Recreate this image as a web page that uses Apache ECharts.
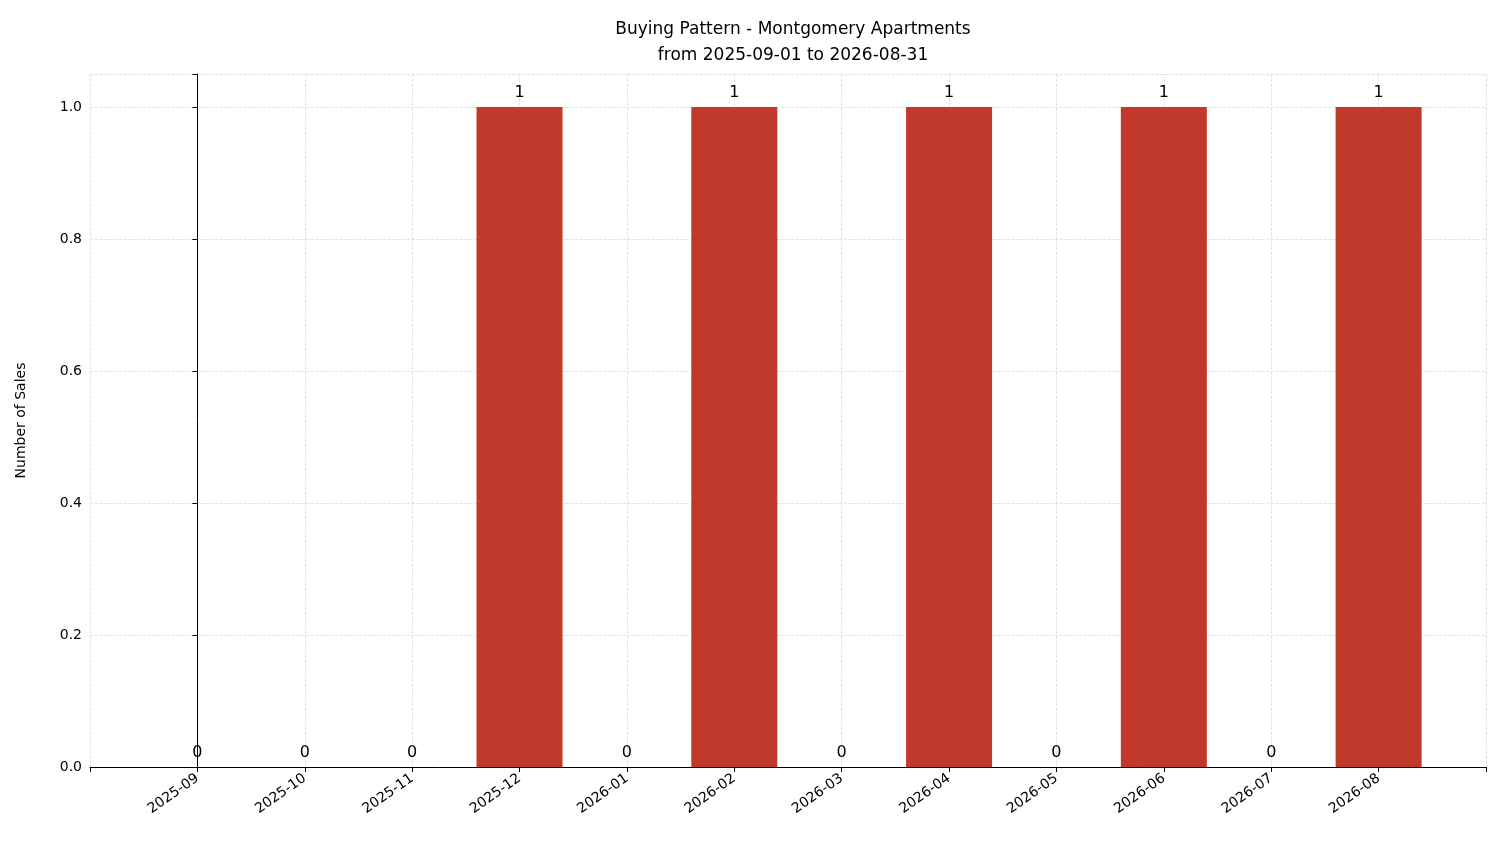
<!DOCTYPE html>
<html><head><meta charset="utf-8">
<script src="https://cdn.jsdelivr.net/npm/echarts@6/dist/echarts.min.js"></script>
<style>html,body{margin:0;padding:0;background:#fff}#c{width:1501px;height:863px}</style>
</head><body><div id="c"></div>
<script>
const categories = ['2025-09','2025-10','2025-11','2025-12','2026-01','2026-02','2026-03','2026-04','2026-05','2026-06','2026-07','2026-08'];
const sales = [0,0,0,1,0,1,0,1,0,1,0,1];
const yTicks = [0,0.2,0.4,0.6,0.8,1.0];

const chart = echarts.init(document.getElementById('c'));
const font = 'DejaVu Sans';
chart.setOption({
  animation:false,
  textStyle:{fontFamily:font},
  title:{text:'Buying Pattern - Montgomery Apartments\nfrom 2025-09-01 to 2026-08-31',left:788,top:12,textAlign:'center',
    textStyle:{fontFamily:font,fontSize:17,fontWeight:'normal',color:'#000',lineHeight:26}},
  grid:{left:90,right:15,top:74,bottom:96,containLabel:false},
  xAxis:{type:'value',min:-1,max:12,interval:1,
    axisLine:{show:true,lineStyle:{color:'#000'}},
    axisTick:{show:true,length:5,lineStyle:{color:'#000'}},
    axisLabel:{rotate:35,fontSize:14,color:'#000',fontFamily:font,margin:10,
      formatter:v=>(Number.isInteger(v)&&v>=0&&v<categories.length)?categories[v]:''},
    splitLine:{show:true,lineStyle:{type:'dashed',color:'#d9d9d9',width:0.8}}},
  yAxis:{type:'value',min:0,max:1.05,interval:0.2,
    name:'Number of Sales',nameLocation:'middle',nameGap:62,nameRotate:90,
    nameTextStyle:{fontSize:14,color:'#000',fontFamily:font},
    axisLine:{show:true,lineStyle:{color:'#000'}},
    axisTick:{show:true,length:5,lineStyle:{color:'#000'}},
    axisLabel:{fontSize:14,color:'#000',fontFamily:font,formatter:v=>yTicks.some(t=>Math.abs(t-v)<1e-9)?v.toFixed(1):''},
    splitLine:{show:true,lineStyle:{type:'dashed',color:'#d9d9d9',width:0.8}}},
  series:[{type:'bar',barWidth:86,itemStyle:{color:'#c0392b'},
    data:sales.map((v,i)=>[i,v]),
    label:{show:true,position:'top',distance:6,fontSize:16,color:'#000',fontFamily:font,formatter:p=>String(p.value[1])}}]
});
</script></body></html>
